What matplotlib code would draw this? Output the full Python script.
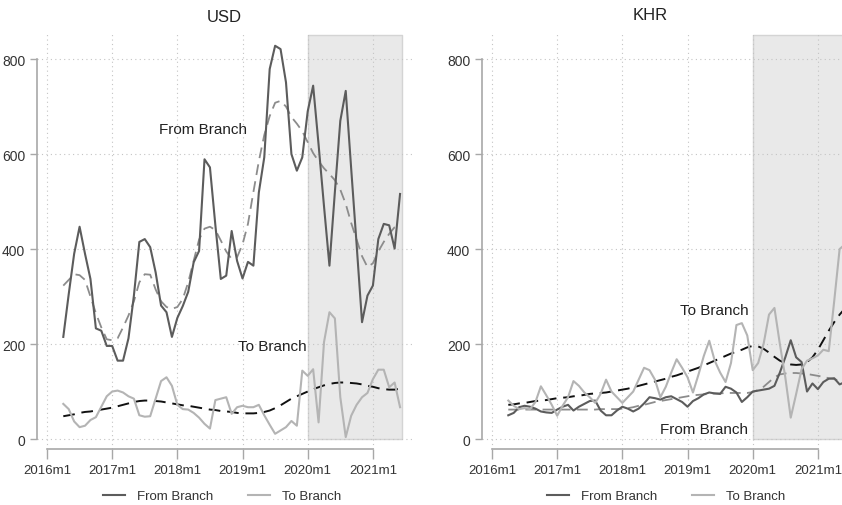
import numpy as np
import matplotlib
matplotlib.use("Agg")
import matplotlib.pyplot as plt
from matplotlib.lines import Line2D

plt.rcParams['font.family'] = ['Liberation Sans', 'DejaVu Sans']

# months counted from 2016m1 = 0; series run 2016m4 .. 2021m6
months = np.arange(3, 66)
tick_pos = [0, 12, 24, 36, 48, 60]
tick_lab = ['2016m1', '2017m1', '2018m1', '2019m1', '2020m1', '2021m1']
covid_start, covid_end = 48, 65

usd_from = [215, 305, 390, 447, 390, 337, 233, 228, 196, 196, 165, 165, 212, 302, 415,
            421, 404, 351, 281, 267, 215, 255, 280, 310, 372, 396, 589, 572, 450, 337,
            344, 438, 375, 338, 373, 365, 519, 593, 779, 828, 821, 751, 600, 565, 593,
            690, 744, 620, 490, 365, 520, 670, 733, 570, 410, 246, 302, 323, 421, 453,
            450, 401, 516]
usd_to = [74, 63, 37, 25, 28, 40, 46, 68, 90, 100, 102, 98, 90, 85, 50,
          47, 48, 85, 122, 130, 112, 72, 63, 62, 55, 45, 32, 22, 82, 85,
          88, 53, 67, 70, 67, 67, 72, 50, 30, 11, 18, 25, 38, 28, 144,
          133, 147, 35, 204, 267, 254, 88, 4, 49, 72, 88, 97, 126, 146, 146,
          109, 119, 67]
usd_from_trend = [323, 335, 347, 345, 335, 300, 265, 235, 210, 208, 212, 235, 260, 290, 330,
                  347, 346, 315, 290, 278, 274, 278, 295, 330, 375, 420, 443, 447, 440, 418,
                  395, 379, 383, 410, 453, 520, 585, 640, 680, 708, 712, 700, 678, 664, 648,
                  625, 602, 585, 570, 558, 545, 525, 495, 455, 420, 385, 362, 370, 395, 415,
                  432, 446, 452]
usd_to_trend = [48, 50, 52, 55, 57, 58, 60, 62, 64, 66, 69, 72, 75, 78, 80,
                81, 81, 80, 79, 77, 75, 73, 71, 70, 68, 66, 64, 62, 61, 59,
                58, 57, 55, 54, 54, 54, 55, 57, 60, 65, 71, 78, 85, 90, 95,
                100, 105, 109, 113, 116, 118, 119, 119, 118, 117, 115, 112, 110, 107, 105,
                104, 104, 106]

khr_from = [50, 55, 67, 70, 68, 64, 58, 56, 55, 62, 68, 72, 60, 68, 74,
            80, 81, 60, 50, 50, 60, 68, 64, 58, 64, 75, 88, 86, 83, 88,
            90, 84, 78, 68, 80, 86, 94, 98, 96, 95, 110, 106, 98, 78, 88,
            100, 102, 104, 106, 112, 140, 172, 208, 172, 162, 100, 117, 105, 120, 127,
            128, 115, 120]
khr_to = [81, 70, 63, 65, 63, 78, 111, 92, 72, 49, 70, 88, 122, 112, 98,
          88, 76, 95, 125, 100, 88, 76, 88, 100, 125, 150, 145, 125, 88, 110,
          140, 168, 150, 130, 98, 135, 175, 207, 165, 140, 120, 160, 240, 244, 218,
          145, 160, 200, 262, 276, 200, 130, 45, 95, 147, 165, 170, 176, 188, 185,
          290, 400, 410]
khr_from_trend = [62, 62, 62, 62, 62, 62, 62, 62, 62, 62, 62, 62, 62, 62, 62,
                  62, 62, 63, 63, 63, 63, 64, 65, 67, 70, 72, 75, 78, 80, 82,
                  84, 86, 88, 90, 92, 93, 94, 95, 96, 96, 97, 97, 97, 97, 97,
                  99, 103, 110, 120, 130, 136, 138, 139, 139, 138, 137, 135, 133, 131, 128,
                  126, 123, 121]
khr_to_trend = [72, 73, 75, 76, 78, 80, 81, 82, 84, 86, 87, 88, 90, 91, 93,
                95, 96, 97, 98, 100, 102, 104, 106, 109, 112, 115, 118, 121, 124, 127,
                131, 134, 138, 142, 146, 150, 155, 160, 165, 170, 175, 180, 184, 188, 193,
                196, 195, 190, 182, 173, 165, 160, 157, 156, 157, 162, 172, 188, 208, 228,
                246, 262, 275]

c_from = '#5c5c5c'
c_to = '#b4b4b4'
c_from_tr = '#8c8c8c'
c_to_tr = '#111111'
axis_c = '#a8a8a8'
dash = (0, (6, 3.5))

fig = plt.figure(figsize=(8.42, 5.06), dpi=100)
W, H = 842.0, 506.0
ax1 = fig.add_axes([37 / W, 1 - 450 / H, 375 / W, 417 / H])
ax2 = fig.add_axes([482 / W, 1 - 450 / H, 375 / W, 417 / H])


def style_axis(ax):
    ax.set_xlim(-1.84, 67.2)
    ax.set_ylim(-21, 857)
    ax.fill_between([covid_start, covid_end + 0.3], 0, 850, color='#e9e9e9',
                    edgecolor='#d4d4d4', linewidth=1.0, zorder=0)
    ax.set_xticks(tick_pos)
    ax.set_xticklabels(tick_lab)
    ax.set_yticks([0, 200, 400, 600, 800])
    ax.grid(True, linestyle=(0, (1, 3)), color='#c4c4c4', linewidth=0.8, zorder=0.5)
    for s in ['top', 'right']:
        ax.spines[s].set_visible(False)
    ax.spines['left'].set_bounds(0, 800)
    ax.spines['bottom'].set_bounds(0, 60)
    for s in ['left', 'bottom']:
        ax.spines[s].set_color(axis_c)
        ax.spines[s].set_linewidth(1.2)
    ax.tick_params(axis='both', colors=axis_c, labelcolor='#333333', labelsize=10,
                   length=5, width=1.0)
    ax.tick_params(axis='x', length=7, pad=4, labelsize=9.5)
    ax.set_axisbelow(True)


for ax in (ax1, ax2):
    style_axis(ax)

# USD panel
ax1.plot(months, usd_from_trend, color=c_from_tr, lw=1.3, linestyle=dash, zorder=3)
ax1.plot(months, usd_to_trend, color=c_to_tr, lw=1.4, linestyle=dash, zorder=3)
ax1.plot(months, usd_from, color=c_from, lw=1.5, zorder=4)
ax1.plot(months, usd_to, color=c_to, lw=1.5, zorder=4)
ax1.text(28.7, 652, 'From Branch', fontsize=11, ha='center', va='center', color='#222222')
ax1.text(47.8, 196, 'To Branch', fontsize=11, ha='right', va='center', color='#222222')
ax1.set_title('USD', fontsize=12, color='#222222', pad=8)

# KHR panel
ax2.plot(months, khr_from_trend, color=c_from_tr, lw=1.3, linestyle=dash, zorder=3)
ax2.plot(months, khr_to_trend, color=c_to_tr, lw=1.4, linestyle=dash, zorder=3)
ax2.plot(months, khr_from, color=c_from, lw=1.5, zorder=4)
ax2.plot(months, khr_to, color=c_to, lw=1.5, zorder=4)
ax2.text(47.2, 272, 'To Branch', fontsize=11, ha='right', va='center', color='#222222')
ax2.text(47.2, 22, 'From Branch', fontsize=11, ha='right', va='center', color='#222222')
fig.text(650 / W, 1 - 15 / H, 'KHR', fontsize=12, ha='center', va='center', color='#222222')

handles = [Line2D([], [], color=c_from, lw=1.5), Line2D([], [], color=c_to, lw=1.5)]
for cx in (222, 666):
    fig.legend(handles, ['From Branch', 'To Branch'], loc='center',
               bbox_to_anchor=(cx / W, 1 - 497 / H), ncol=2, frameon=False,
               fontsize=9.5, handlelength=1.7, columnspacing=2.6, handletextpad=0.9,
               labelcolor='#333333')

fig.savefig('out.png', dpi=100)
